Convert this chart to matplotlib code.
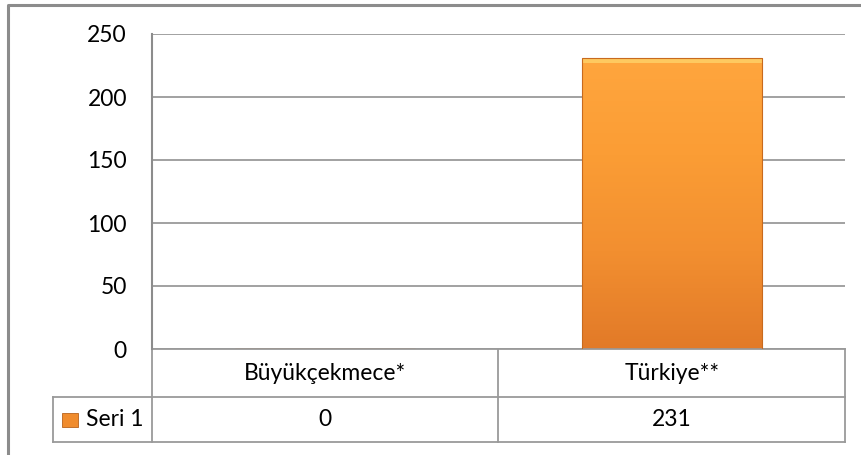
import numpy as np
import matplotlib.pyplot as plt
import matplotlib.transforms as mtransforms
from matplotlib.colors import LinearSegmentedColormap

categories = ["Büyükçekmece*", "Türkiye**"]
values = [0, 231]
series_name = "Seri 1"
yticks = [0, 50, 100, 150, 200, 250]

plt.rcParams['font.family'] = ['Lato', 'DejaVu Sans']
FS = 16.5
W, H = 862, 455
fig = plt.figure(figsize=(W / 100, H / 100), dpi=100)

# outer chart border
frame = fig.add_axes([0, 0, 1, 1])
frame.set_xlim(0, W)
frame.set_ylim(H, 0)
frame.axis("off")
frame.plot([8, 8, 870], [470, 5, 5], color="#8c8c8c", lw=2.2, solid_capstyle="butt")

ax = fig.add_axes([152 / W, (H - 349) / H, 693 / W, 315 / H])
x = np.arange(len(categories))
ax.set_xlim(-0.5, len(categories) - 0.5)
ax.set_ylim(0, 250)
ax.set_yticks(yticks)
ax.set_yticklabels([str(t) for t in yticks], fontsize=FS)
ax.tick_params(axis="y", length=0, pad=18)
ax.set_xticks([])
for s in ["top", "right", "bottom"]:
    ax.spines[s].set_visible(False)
ax.spines["left"].set_color("#8c8c8c")
ax.spines["left"].set_linewidth(1.5)
ax.yaxis.grid(True, color="#9a9a9a", lw=1.3)
ax.set_axisbelow(True)

# bars with a vertical gradient
cmap = LinearSegmentedColormap.from_list("org", ["#e27a28", "#f28f30", "#fb9d35", "#ffa63e"])
bars = ax.bar(x, values, width=0.52, color="none", edgecolor="#c86a1e", lw=0.8, zorder=3)
grad = np.linspace(0, 1, 256).reshape(-1, 1)
for b in bars:
    h = b.get_height()
    if h <= 0:
        continue
    bx, bw = b.get_x(), b.get_width()
    im = ax.imshow(grad, extent=[bx, bx + bw, 0, h], origin="lower", cmap=cmap,
                   aspect="auto", zorder=2)
    im.set_clip_path(b)
    # highlight strip on top
    ax.fill_between([bx, bx + bw], h - 4, h, color="#ffd36a", alpha=0.8, zorder=2.5, lw=0)
ax.set_xlim(-0.5, len(categories) - 0.5)
ax.set_ylim(0, 250)

# data table under the plot
tr = mtransforms.blended_transform_factory(ax.transData, ax.transAxes)
r1 = -48 / 315
r2 = -93 / 315
xl = -0.5 - 99 / 346.5
lc = "#9a9a9a"
kw = dict(transform=tr, clip_on=False, color=lc, lw=1.3)
ax.plot([-0.5, 1.5], [0, 0], **kw)
ax.plot([xl, 1.5], [r1, r1], **kw)
ax.plot([xl, 1.5], [r2, r2], **kw)
ax.plot([xl, xl], [r1, r2], **kw)
ax.plot([-0.5, -0.5], [0.0, r2], **kw)
ax.plot([0.5, 0.5], [0, r2], **kw)
ax.plot([1.5, 1.5], [0, r2], **kw)
for i, (c, v) in enumerate(zip(categories, values)):
    ax.text(i, r1 / 2, c, transform=tr, ha="center", va="center", fontsize=FS)
    ax.text(i, (r1 + r2) / 2, str(v), transform=tr, ha="center", va="center", fontsize=FS)
ax.text(-0.5 - 66 / 346.5, (r1 + r2) / 2, series_name, transform=tr,
        ha="left", va="center", fontsize=FS)
sq = plt.Rectangle((-0.5 - 90 / 346.5, (r1 + r2) / 2 - 7 / 315), 16 / 346.5, 14 / 315,
                   transform=tr, clip_on=False, facecolor="#f08c2e", edgecolor="#b8621c", lw=0.6)
ax.add_patch(sq)

fig.savefig("out.png", dpi=100)
